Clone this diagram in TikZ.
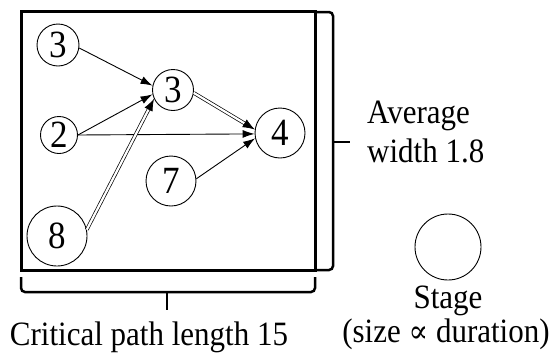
\documentclass[tikz,border=0pt]{standalone}
\usepackage{fontspec}
\setmainfont{Liberation Serif}
\newfontfamily\symf{DejaVu Serif}
\usetikzlibrary{arrows.meta}
\newcommand{\tallt}[1]{\scalebox{1}[1.1]{#1}}
\begin{document}
\begin{tikzpicture}[x=1pt,y=-1pt,
  stagenode/.style={draw, circle, line width=0.9pt, inner sep=0pt, font=\fontsize{35}{35}\selectfont},
  edge/.style={line width=0.9pt, -{Latex[length=12pt,width=8pt]}},
  dedge/.style={line width=0.7pt, double, double distance=2.2pt, -{Latex[length=12pt,width=9pt]}},
  lbl/.style={font=\fontsize{31}{34}\selectfont, inner sep=0pt},
  frame/.style={line width=3pt},
  brace/.style={line width=2.5pt, rounded corners=4pt}]
\useasboundingbox (0,0) rectangle (549,354);
% frame
\draw[frame] (21,11) rectangle (315,270);
% stages
\node[stagenode, minimum size=42pt] (a) at (58,45) {\tallt{3}};
\node[stagenode, minimum size=37pt] (b) at (59,135) {\tallt{2}};
\node[stagenode, minimum size=60pt] (c) at (57,236) {\tallt{8}};
\node[stagenode, minimum size=41pt] (m) at (173,90) {\tallt{3}};
\node[stagenode, minimum size=50pt] (d) at (171,181) {\tallt{7}};
\node[stagenode, minimum size=50pt] (e) at (280,133) {\tallt{4}};
% edges
\draw[edge] (a.-8) -- (m.168);
\draw[edge] (b.east) -- (m.192);
\draw[edge] (b.east) -- (e.182);
\draw[dedge] (c.12) -- (m.205);
\draw[dedge] (m.-8) -- (e.172);
\draw[edge] (d.5) -- (e.192);
% right brace
\coordinate (rt) at (315,12);
\coordinate (rb) at (315,270);
\coordinate (rtip) at (350,142);
\draw[brace] (rt) -| (333,142) |- (rb);
\draw[line width=2.5pt] (333,142) -- (rtip);
% bottom brace
\coordinate (bl) at (21,277);
\coordinate (br) at (315,277);
\coordinate (btip) at (167,310);
\draw[brace] (bl) |- (167,292) -| (br);
\draw[line width=2.5pt] (167,292) -- (btip);
% labels
\node[lbl, anchor=base] (cp) at (149,345) {\tallt{Critical path length 15}};
\node[lbl, anchor=base west] (av) at (367,123) {\tallt{Average}};
\node[lbl, anchor=base west] (aw) at (367,162) {\tallt{width 1.8}};
% legend
\node[draw, circle, line width=0.9pt, minimum size=66pt, inner sep=0pt] (leg) at (448,247) {};
\node[lbl, anchor=base] (st) at (448,308) {\tallt{Stage}};
\node[lbl, anchor=base] (sd) at (446,342) {\tallt{(size {\symf\fontsize{29}{30}\selectfont ∝} duration)}};
\end{tikzpicture}
\end{document}
